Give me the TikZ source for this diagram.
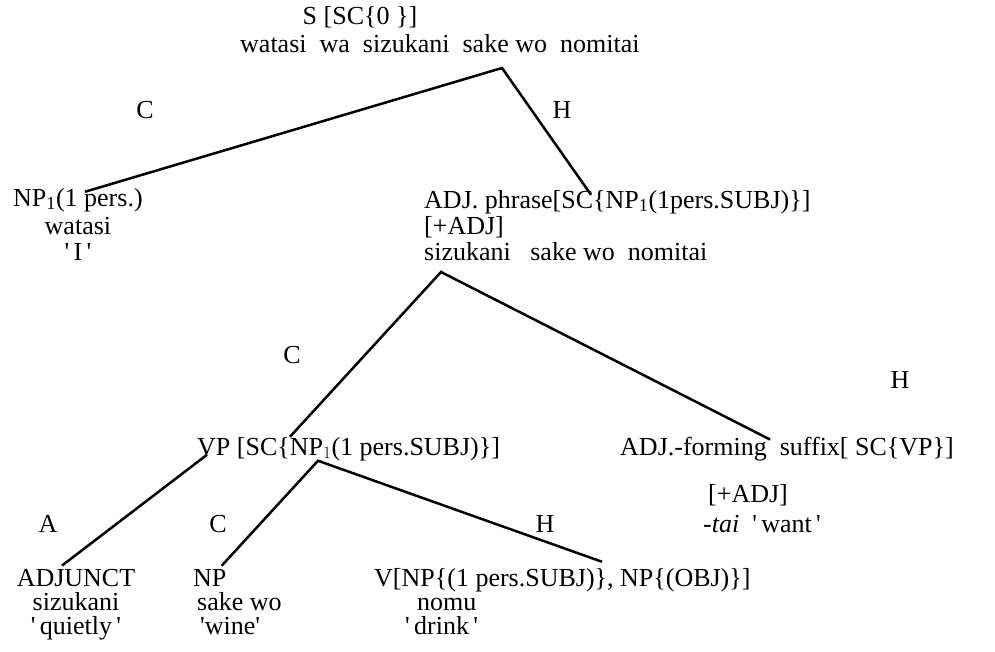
\documentclass[tikz,border=0pt]{standalone}
\usepackage{fontspec}
\setmainfont{Liberation Serif}
\usetikzlibrary{positioning}

\newcommand{\sq}{\textquotesingle}

\begin{document}
\begin{tikzpicture}[x=1pt, y=-1pt, every node/.style={inner sep=0pt, font=\fontsize{26}{28}\selectfont}]
    \tikzset{
        cat/.style={anchor=base west},
        mid/.style={anchor=base},
        branch/.style={line width=2.5pt}
    }
    \useasboundingbox (0,0) rectangle (995,651);

    % top: S
    \node [mid] (s) at (360,24) {S [SC\{0 \}]};
    \node [cat] (sent) at (240,52) {watasi\ \ wa\ \ sizukani\ \ sake wo\ \ nomitai};
    \coordinate (sv) at (502,68);
    \node [mid] (c1) at (145,118) {C};
    \node [mid] (h1) at (562,118) {H};

    % NP1 and ADJ. phrase
    \node [cat] (np1) at (13,206) {NP\textsubscript{1}(1 pers.)};
    \node [mid] (np1w) at ([yshift=-28pt]np1.base) {watasi};
    \node [mid] (np1g) at ([yshift=-26pt]np1w.base) {\sq\,I\,\sq};
    \node [cat] (adjp) at (424,208) {ADJ. phrase[SC\{NP\textsubscript{1}(1pers.SUBJ)\}]};
    \node [cat] (adjpf) at ([yshift=-26pt]adjp.base west) {[+ADJ]};
    \node [cat] (adjpw) at ([yshift=-26pt]adjpf.base west) {sizukani\ \ \ sake wo\ \ nomitai};
    \coordinate (av) at ([xshift=17pt, yshift=-12pt]adjpw.base west);

    \draw [branch] ([xshift=72pt, yshift=-4pt]np1.north west) -- (sv) -- ([xshift=167pt, yshift=-5pt]adjp.north west);

    \node [mid] (c2) at (292,363) {C};
    \node [mid] (h2) at (900,388) {H};

    % VP and suffix
    \node [cat] (vp) at (197,455) {VP [SC\{NP$_{1}$(1 pers.SUBJ)\}]};
    \node [cat] (suf) at (620,455) {ADJ.-forming\ \ suffix[ SC\{VP\}]};
    \node [cat] (suff) at (708,502) {[+ADJ]};
    \node [cat] (sufg) at ([xshift=-5pt, yshift=-30pt]suff.base west) {\textit{-tai}\ \ \sq\,want\,\sq};
    \coordinate (vpv) at ([xshift=121pt]vp.south west);

    \draw [branch] ([xshift=93pt]vp.north west) -- (av) -- ([xshift=150pt, yshift=-3pt]suf.north west);

    \node [mid] (a3) at (48,532) {A};
    \node [mid] (c3) at (218,532) {C};
    \node [mid] (h3) at (545,532) {H};

    % bottom row
    \node [mid] (adj) at (76,586) {ADJUNCT};
    \node [mid] (adjw) at ([yshift=-24pt]adj.base) {sizukani};
    \node [mid] (adjg) at ([yshift=-24pt]adjw.base) {\sq\,quietly\,\sq};
    \node [cat] (np) at (193,586) {NP};
    \node [cat] (npw) at ([xshift=4pt, yshift=-24pt]np.base west) {sake wo};
    \node [cat] (npg) at ([xshift=3pt, yshift=-24pt]npw.base west) {\sq wine\sq};
    \node [cat] (v) at (374,586) {V[NP\{(1 pers.SUBJ)\}, NP\{(OBJ)\}]};
    \node [cat] (vw) at ([xshift=43pt, yshift=-24pt]v.base west) {nomu};
    \node [cat] (vg) at ([xshift=-12pt, yshift=-24pt]vw.base west) {\sq\,drink\,\sq};

    \draw [branch] ([xshift=-14pt, yshift=3pt]adj.north) -- ([xshift=10pt, yshift=6pt]vp.south west);
    \draw [branch] ([xshift=-5pt, yshift=3pt]np.north east) -- (vpv) -- ([xshift=228pt, yshift=6pt]v.north west);
\end{tikzpicture}
\end{document}
